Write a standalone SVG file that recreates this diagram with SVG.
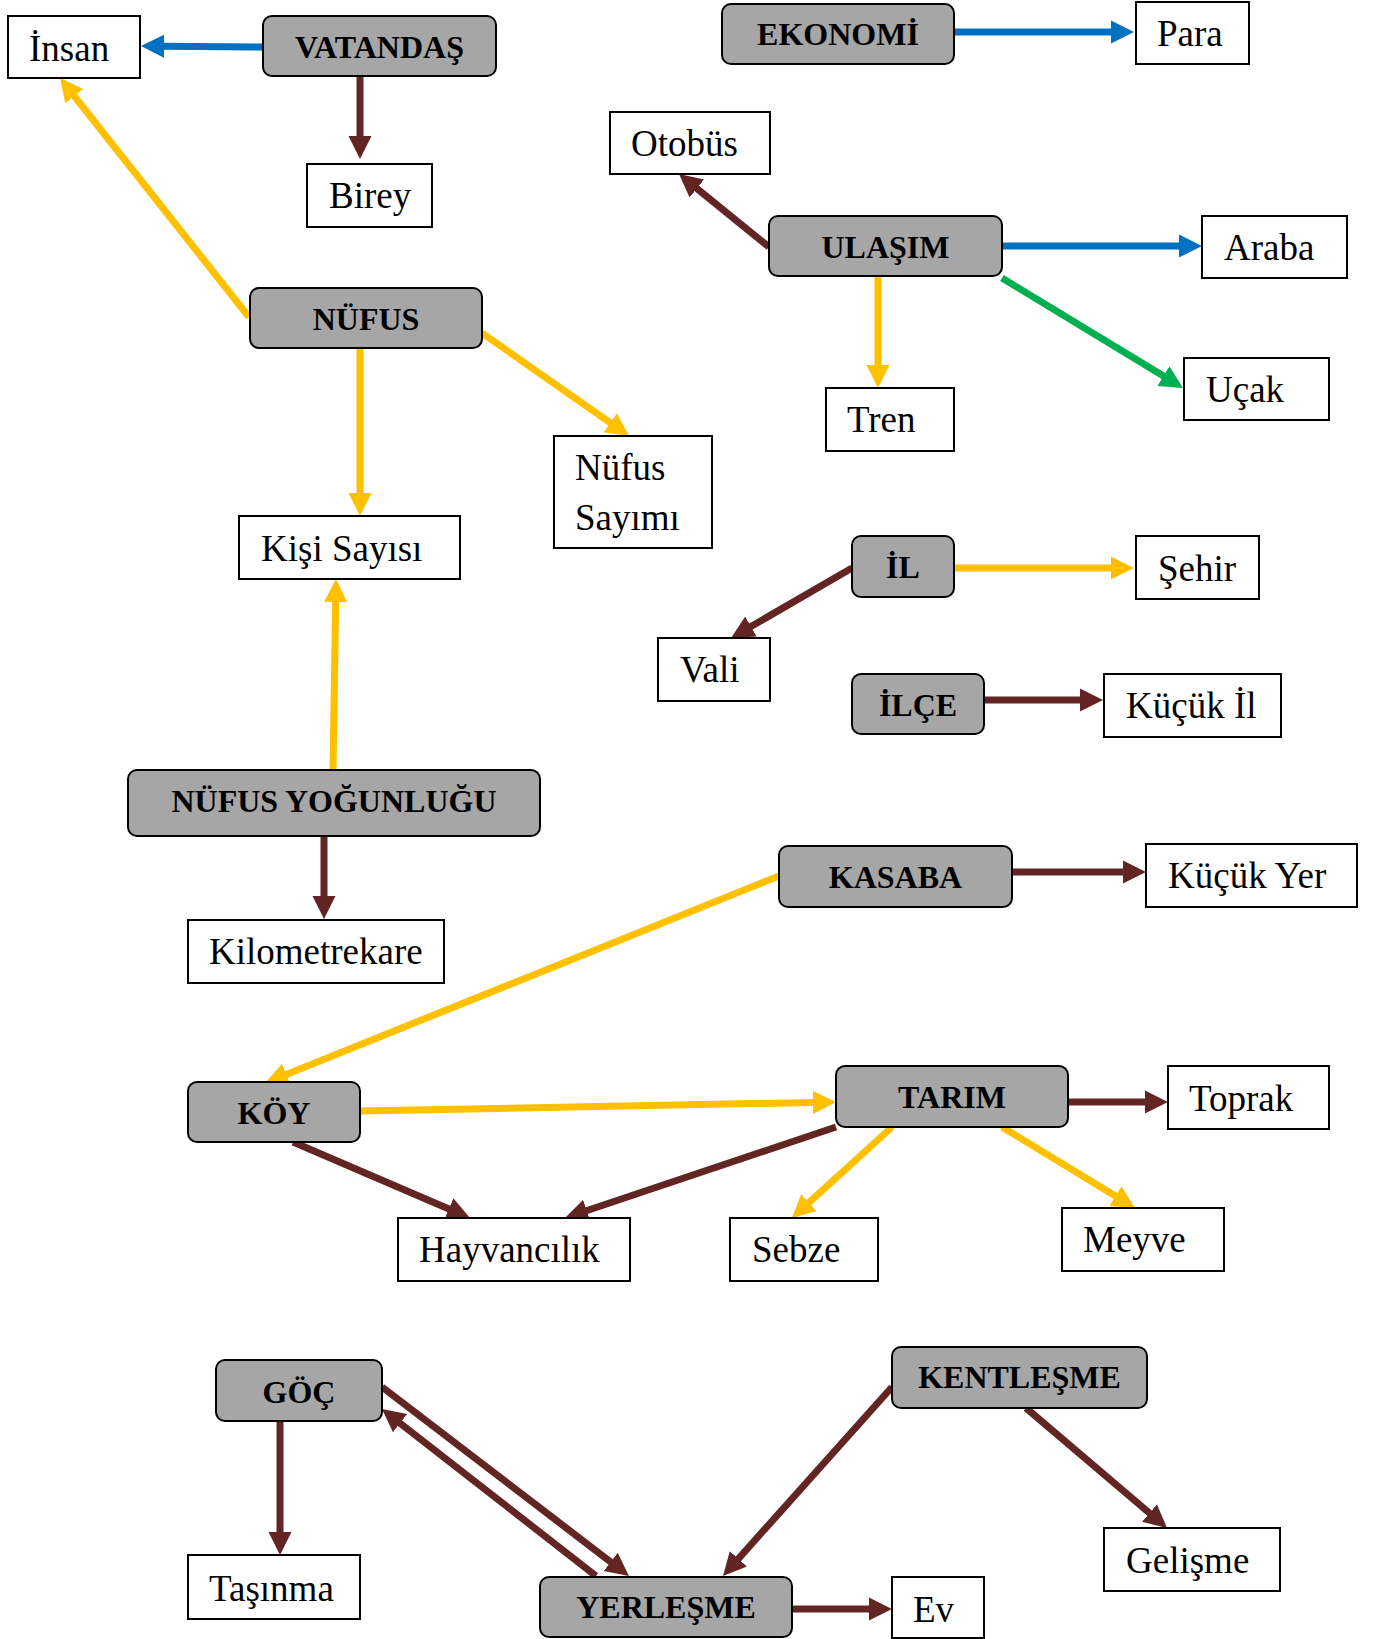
<svg xmlns="http://www.w3.org/2000/svg" width="1377" height="1639" viewBox="0 0 1377 1639">
<style>
.c{fill:#A6A6A6;stroke:#000;stroke-width:2}
.t{fill:#fff;stroke:#000;stroke-width:2}
.b{font-family:"Liberation Serif","Times New Roman",serif;font-weight:bold;font-size:32px;fill:#000;text-anchor:middle}
.r{font-family:"Liberation Serif","Times New Roman",serif;font-size:37px;fill:#000}
.ln{fill:none;stroke-width:7}
.br{stroke:#632523;marker-end:url(#mbr)}
.ye{stroke:#FFC000;marker-end:url(#mye)}
.bl{stroke:#0070C0;marker-end:url(#mbl)}
.gr{stroke:#00B050;marker-end:url(#mgr)}
</style>
<defs>
<marker id="mbr" markerUnits="userSpaceOnUse" markerWidth="30" markerHeight="30" refX="2" refY="12" orient="auto" viewBox="0 0 30 24"><path d="M0,0.5 L23,12 L0,23.5 z" fill="#632523"/></marker>
<marker id="mye" markerUnits="userSpaceOnUse" markerWidth="30" markerHeight="30" refX="2" refY="12" orient="auto" viewBox="0 0 30 24"><path d="M0,0.5 L23,12 L0,23.5 z" fill="#FFC000"/></marker>
<marker id="mbl" markerUnits="userSpaceOnUse" markerWidth="30" markerHeight="30" refX="2" refY="12" orient="auto" viewBox="0 0 30 24"><path d="M0,0.5 L23,12 L0,23.5 z" fill="#0070C0"/></marker>
<marker id="mgr" markerUnits="userSpaceOnUse" markerWidth="30" markerHeight="30" refX="2" refY="12" orient="auto" viewBox="0 0 30 24"><path d="M0,0.5 L23,12 L0,23.5 z" fill="#00B050"/></marker>
</defs>
<rect width="1377" height="1639" fill="#fff"/>
<g id="connectors">
<path class="ln bl" d="M263,47 L162,46.2"/>
<path class="ln br" d="M360,76 L360,138"/>
<path class="ln ye" d="M249,317 L73,94.5"/>
<path class="ln ye" d="M360,348 L360,495"/>
<path class="ln ye" d="M482,333 L611.9,423.9"/>
<path class="ln ye" d="M333,770 L335.7,600"/>
<path class="ln br" d="M324,836 L324,898"/>
<path class="ln bl" d="M954,32 L1113,32"/>
<path class="ln br" d="M769,247 L695.3,187.2"/>
<path class="ln bl" d="M1002,246 L1181,246"/>
<path class="ln gr" d="M1002,278 L1165.1,377.1"/>
<path class="ln ye" d="M878,276 L878,367"/>
<path class="ln br" d="M852,568 L749.2,627.5"/>
<path class="ln ye" d="M954,568 L1113,568"/>
<path class="ln br" d="M984,700 L1082,700"/>
<path class="ln ye" d="M779,876 L284.5,1075.2"/>
<path class="ln br" d="M1012,872 L1125,872"/>
<path class="ln ye" d="M360,1111 L815,1102.4"/>
<path class="ln br" d="M293,1142 L450.7,1209.7"/>
<path class="ln br" d="M836,1127 L584.9,1211.3"/>
<path class="ln br" d="M1068,1102 L1147,1102"/>
<path class="ln ye" d="M892,1127 L807.5,1203.9"/>
<path class="ln ye" d="M1002,1127 L1117.1,1197.1"/>
<path class="ln br" d="M280,1421 L280,1534"/>
<path class="ln br" d="M382,1387 L612.3,1563.2"/>
<path class="ln br" d="M596,1576 L398.5,1421.9"/>
<path class="ln br" d="M792,1609 L871,1609"/>
<path class="ln br" d="M892,1387 L737,1560.3"/>
<path class="ln br" d="M1026,1408 L1151,1514.4"/>
</g>
<g id="vatandas"><rect class="c" x="263" y="16" width="233" height="60" rx="9"/><text class="b" x="379.5" y="58">VATANDAŞ</text></g>
<g id="insan"><rect class="t" x="8" y="16" width="132" height="62"/><text class="r" x="29" y="61">İnsan</text></g>
<g id="birey"><rect class="t" x="307" y="164" width="125" height="63"/><text class="r" x="329" y="208">Birey</text></g>
<g id="nufus"><rect class="c" x="250" y="288" width="232" height="60" rx="9"/><text class="b" x="366" y="330">NÜFUS</text></g>
<g id="ekonomi"><rect class="c" x="722" y="4" width="232" height="60" rx="9"/><text class="b" x="838" y="45">EKONOMİ</text></g>
<g id="para"><rect class="t" x="1136" y="2" width="113" height="62"/><text class="r" x="1157" y="46">Para</text></g>
<g id="otobus"><rect class="t" x="610" y="112" width="160" height="62"/><text class="r" x="631" y="156">Otobüs</text></g>
<g id="ulasim"><rect class="c" x="769" y="216" width="233" height="60" rx="9"/><text class="b" x="885.5" y="258">ULAŞIM</text></g>
<g id="araba"><rect class="t" x="1202" y="216" width="145" height="62"/><text class="r" x="1224" y="260">Araba</text></g>
<g id="ucak"><rect class="t" x="1184" y="358" width="145" height="62"/><text class="r" x="1206" y="402">Uçak</text></g>
<g id="tren"><rect class="t" x="826" y="388" width="128" height="63"/><text class="r" x="847" y="432">Tren</text></g>
<g id="kisi-sayisi"><rect class="t" x="239" y="516" width="221" height="63"/><text class="r" x="261" y="561">Kişi Sayısı</text></g>
<g id="nufus-sayimi"><rect class="t" x="554" y="436" width="158" height="112"/><text class="r" x="575" y="480">Nüfus</text><text class="r" x="575" y="530">Sayımı</text></g>
<g id="il"><rect class="c" x="852" y="536" width="102" height="61" rx="9"/><text class="b" x="903" y="578">İL</text></g>
<g id="vali"><rect class="t" x="658" y="638" width="112" height="63"/><text class="r" x="680" y="682">Vali</text></g>
<g id="sehir"><rect class="t" x="1136" y="536" width="123" height="63"/><text class="r" x="1158" y="581">Şehir</text></g>
<g id="ilce"><rect class="c" x="852" y="674" width="132" height="60" rx="9"/><text class="b" x="918" y="716">İLÇE</text></g>
<g id="kucuk-il"><rect class="t" x="1104" y="674" width="177" height="63"/><text class="r" x="1126" y="718">Küçük İl</text></g>
<g id="nufus-yogunlugu"><rect class="c" x="128" y="770" width="412" height="66" rx="9"/><text class="b" x="334" y="812">NÜFUS YOĞUNLUĞU</text></g>
<g id="kilometrekare"><rect class="t" x="188" y="920" width="256" height="63"/><text class="r" x="209" y="964">Kilometrekare</text></g>
<g id="kasaba"><rect class="c" x="779" y="846" width="233" height="61" rx="9"/><text class="b" x="895.5" y="888">KASABA</text></g>
<g id="kucuk-yer"><rect class="t" x="1146" y="844" width="211" height="63"/><text class="r" x="1168" y="888">Küçük Yer</text></g>
<g id="koy"><rect class="c" x="188" y="1082" width="172" height="60" rx="9"/><text class="b" x="274" y="1124">KÖY</text></g>
<g id="tarim"><rect class="c" x="836" y="1066" width="232" height="61" rx="9"/><text class="b" x="952" y="1108">TARIM</text></g>
<g id="toprak"><rect class="t" x="1168" y="1066" width="161" height="63"/><text class="r" x="1189" y="1111">Toprak</text></g>
<g id="hayvancilik"><rect class="t" x="398" y="1218" width="232" height="63"/><text class="r" x="419" y="1262">Hayvancılık</text></g>
<g id="sebze"><rect class="t" x="730" y="1218" width="148" height="63"/><text class="r" x="752" y="1262">Sebze</text></g>
<g id="meyve"><rect class="t" x="1062" y="1208" width="162" height="63"/><text class="r" x="1083" y="1252">Meyve</text></g>
<g id="goc"><rect class="c" x="216" y="1360" width="166" height="61" rx="9"/><text class="b" x="299" y="1403">GÖÇ</text></g>
<g id="tasinma"><rect class="t" x="188" y="1555" width="172" height="64"/><text class="r" x="209" y="1601">Taşınma</text></g>
<g id="yerlesme"><rect class="c" x="540" y="1577" width="252" height="60" rx="9"/><text class="b" x="666" y="1618">YERLEŞME</text></g>
<g id="ev"><rect class="t" x="892" y="1577" width="92" height="61"/><text class="r" x="913" y="1622">Ev</text></g>
<g id="kentlesme"><rect class="c" x="892" y="1347" width="255" height="61" rx="9"/><text class="b" x="1019.5" y="1388">KENTLEŞME</text></g>
<g id="gelisme"><rect class="t" x="1104" y="1528" width="176" height="63"/><text class="r" x="1126" y="1573">Gelişme</text></g>
</svg>
